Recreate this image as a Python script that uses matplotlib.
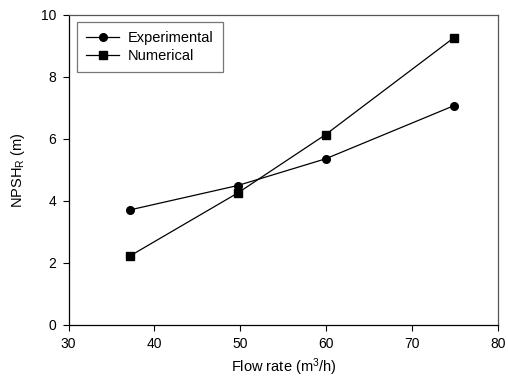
import matplotlib
matplotlib.use('Agg')
import matplotlib.pyplot as plt

plt.rcParams['font.family'] = ['Liberation Sans', 'DejaVu Sans']
plt.rcParams['mathtext.fontset'] = 'custom'
plt.rcParams['mathtext.rm'] = 'Liberation Sans'
plt.rcParams['mathtext.it'] = 'Liberation Sans'

flow = [37.1, 49.7, 59.9, 74.8]
npsh_exp = [3.71, 4.50, 5.36, 7.07]
npsh_num = [2.22, 4.26, 6.14, 9.26]

fig = plt.figure(figsize=(5.08, 3.78), dpi=100)
ax = fig.add_axes([68.5 / 508, 1 - 325 / 378, (498.3 - 68.5) / 508, (325 - 15) / 378])

ax.plot(flow, npsh_exp, color='black', lw=0.9, marker='o', ms=5.5, label='Experimental')
ax.plot(flow, npsh_num, color='black', lw=0.9, marker='s', ms=5.5, label='Numerical')

ax.set_xlim(30, 80)
ax.set_ylim(0, 10)
ax.set_xticks(range(30, 81, 10))
ax.set_yticks(range(0, 11, 2))
ax.tick_params(direction='out', length=4, width=0.8, labelsize=10, colors='black', pad=5)
for s in ax.spines.values():
    s.set_color('#555555')
    s.set_linewidth(0.9)
ax.spines['left'].set_color('black')
ax.spines['bottom'].set_color('black')

ax.set_xlabel('Flow rate (m$^3$/h)', fontsize=10.5, labelpad=3.5)
ax.set_ylabel('NPSH$_R$ (m)', fontsize=10.5, labelpad=10)

leg = ax.legend(loc='upper left', fontsize=10.5, fancybox=False, handlelength=2.3,
                borderpad=0.6, labelspacing=0.3, handletextpad=0.6, borderaxespad=0,
                bbox_to_anchor=(8.5 / 430, 1 - 7 / 310))
leg.get_frame().set_edgecolor('#555555')
leg.get_frame().set_linewidth(0.9)

fig.savefig('out.png', dpi=100)
